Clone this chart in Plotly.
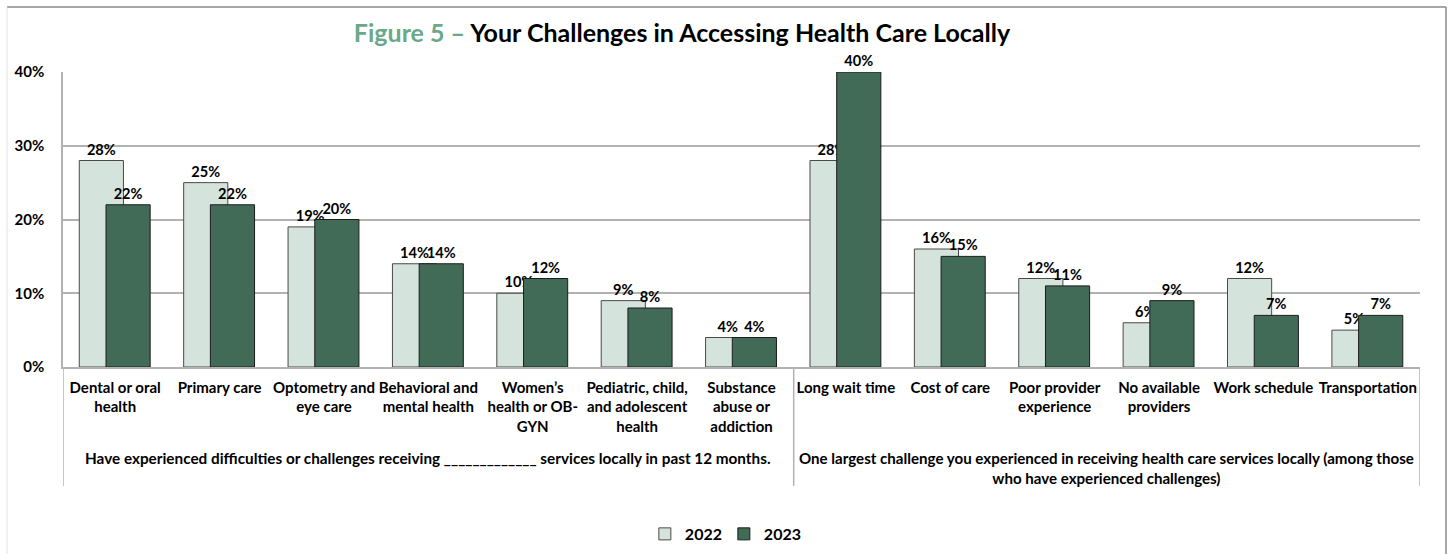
import plotly.graph_objects as go

# Categories (two groups on the x axis)
categories = [
    "Dental or oral<br>health",
    "Primary care",
    "Optometry and<br>eye care",
    "Behavioral and<br>mental health",
    "Women’s<br>health or OB-<br>GYN",
    "Pediatric, child,<br>and adolescent<br>health",
    "Substance<br>abuse or<br>addiction",
    "Long wait time",
    "Cost of care",
    "Poor provider<br>experience",
    "No available<br>providers",
    "Work schedule",
    "Transportation",
]
values_2022 = [28, 25, 19, 14, 10, 9, 4, 28, 16, 12, 6, 12, 5]
values_2023 = [22, 22, 20, 14, 12, 8, 4, 40, 15, 11, 9, 7, 7]

group_labels = [
    "Have experienced difficulties or challenges receiving _____________ services locally in past 12 months.",
    "One largest challenge you experienced in receiving health care services locally (among those<br>who have experienced challenges)",
]
y_ticks = [0, 10, 20, 30, 40]

FONT = "Lato"
C2022 = "#d4e3db"
C2023 = "#416b57"
GRID = "#b2b2b2"
LABEL_FONT = dict(family=FONT, size=14.6, color="black", weight="bold")

fig = go.Figure()
fig.add_trace(go.Bar(
    name="2022", x=categories, y=values_2022,
    marker=dict(color=C2022, line=dict(color="#4a4a4a", width=1)),
    width=0.423, offset=-0.344,
    text=[f"{v}%" for v in values_2022], textposition="outside",
    textfont=LABEL_FONT, constraintext="none", cliponaxis=False,
))
fig.add_trace(go.Bar(
    name="2023", x=categories, y=values_2023,
    marker=dict(color=C2023, line=dict(color="#1c1c1c", width=1)),
    width=0.423, offset=-0.088,
    text=[f"{v}%" for v in values_2023], textposition="outside",
    textfont=LABEL_FONT, constraintext="none", cliponaxis=False,
))

# Group dividers below the category axis
div_bottom = -0.403
for xpos in [-0.5, 6.5, 12.5]:
    fig.add_shape(type="line", xref="x", yref="paper", x0=xpos, x1=xpos,
                  y0=div_bottom, y1=0, line=dict(color=GRID, width=1.5))

# Group labels
fig.add_annotation(text=group_labels[0], xref="x", yref="paper", x=3, y=-0.308,
                   showarrow=False, yanchor="middle",
                   font=dict(family=FONT, size=15.3, color="black", weight="bold"))
fig.add_annotation(text=group_labels[1], xref="x", yref="paper", x=9.5, y=-0.342,
                   showarrow=False, yanchor="middle", align="center",
                   font=dict(family=FONT, size=15.1, color="black", weight="bold"))

# Outer chart frame
top_y = (367 - 7) / 295
left_x = (7 - 63) / 1357
right_x = (1446 - 63) / 1357
fig.add_shape(type="line", xref="paper", yref="paper", x0=left_x, x1=right_x,
              y0=top_y, y1=top_y, line=dict(color="#8a8a8a", width=1.5))
fig.add_shape(type="line", xref="paper", yref="paper", x0=right_x, x1=right_x,
              y0=top_y, y1=-0.8, line=dict(color="#8a8a8a", width=1.5))
fig.add_shape(type="line", xref="paper", yref="paper", x0=left_x, x1=left_x,
              y0=top_y, y1=-0.8, line=dict(color="#e4e4e4", width=1))

fig.update_layout(
    width=1448, height=554,
    margin=dict(l=63, r=28, t=72, b=187, autoexpand=False),
    paper_bgcolor="white", plot_bgcolor="white",
    barmode="overlay",
    font=dict(family=FONT, size=14, color="black"),
    title=dict(
        text='<span style="color:#6aa888">Figure 5 – </span>Your Challenges in Accessing Health Care Locally',
        x=0.471, xanchor="center", y=1 - 33 / 554, yanchor="middle",
        font=dict(family=FONT, size=25, color="black", weight="bold"),
    ),
    xaxis=dict(
        range=[-0.5, 12.5], showgrid=False, showline=True, linecolor=GRID, linewidth=1.5,
        ticks="", tickfont=dict(family=FONT, size=15, color="black", weight="bold"),
        tickangle=0, ticklabelstandoff=6, automargin=False,
    ),
    yaxis=dict(
        range=[0, 40], tickvals=y_ticks, ticktext=[f"{t}%" for t in y_ticks],
        showgrid=True, gridcolor=GRID, gridwidth=1.5,
        showline=True, linecolor=GRID, linewidth=1.5, zeroline=False,
        ticks="", ticklabelstandoff=14, automargin=False,
        tickfont=dict(family=FONT, size=15, color="black", weight="bold"),
    ),
    legend=dict(
        orientation="h", x=0.487, xanchor="center", y=-0.566, yanchor="middle",
        font=dict(family=FONT, size=16, color="black", weight="bold"),
        itemwidth=30, entrywidth=34, traceorder="normal",
    ),
    showlegend=True,
)

fig.write_html("out.html")
